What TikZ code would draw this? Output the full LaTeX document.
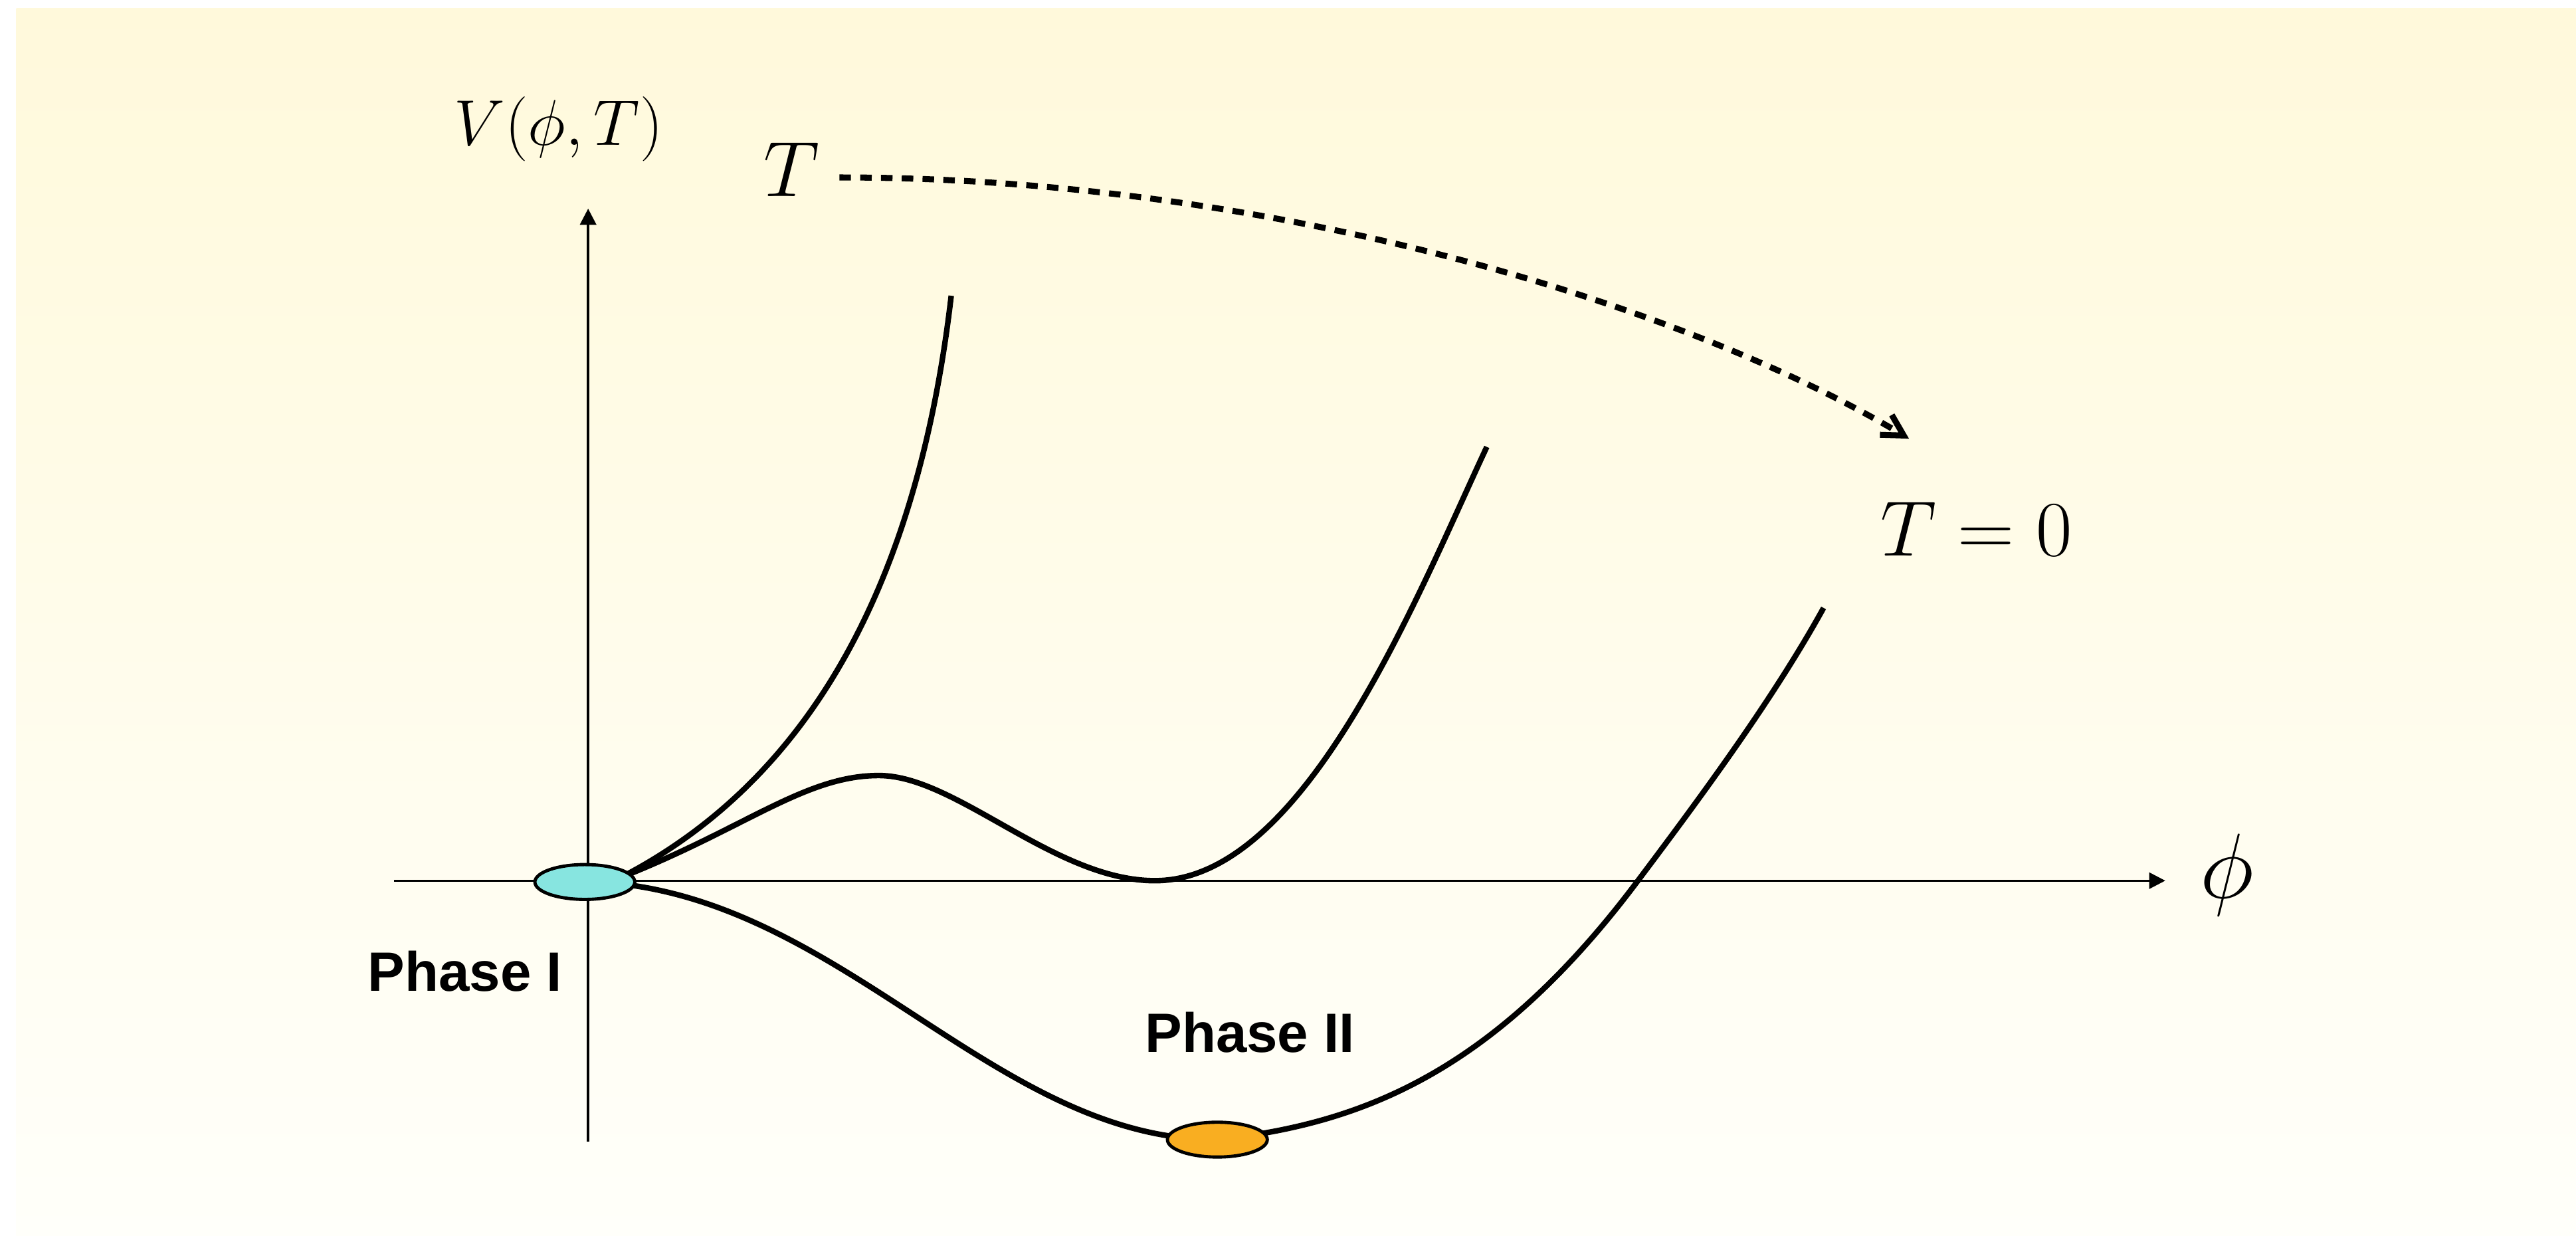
\RequirePackage{fix-cm}
\documentclass[tikz,border=0pt]{standalone}
\usepackage{fontspec}
\setsansfont{Liberation Sans}
\usetikzlibrary{arrows.meta,shapes.geometric}
\definecolor{bgtop}{RGB}{255,249,219}
\definecolor{bgbot}{RGB}{255,255,250}
\definecolor{vacone}{RGB}{135,229,224}
\definecolor{vactwo}{RGB}{249,174,33}

\begin{document}
\begin{tikzpicture}[
  axis/.style={line width=1pt, -{Triangle[length=7pt,width=7pt]}},
  curve/.style={line width=2.4pt},
  vac/.style={ellipse, draw, line width=1.4pt, minimum width=1.52cm,
              minimum height=0.53cm, inner sep=0pt},
  phase/.style={font=\sffamily\bfseries\fontsize{24}{28}\selectfont},
  lab/.style={font=\fontsize{34}{40}\selectfont},
  dots/.style={line width=2.6pt, dash pattern=on 5pt off 4pt,
               -{Straight Barb[length=9pt,width=10pt]}}]
  \useasboundingbox (-8.95,-5.4) rectangle (30.25,13.4);
  \shade[top color=bgtop, bottom color=bgbot] (-8.7,-5.4) rectangle (30.25,13.275);
  % axes
  \coordinate (xl) at (-2.95,0);
  \coordinate (xr) at (24,0);
  \coordinate (yb) at (0,-3.975);
  \coordinate (yt) at (0,10.225);
  \draw[axis] (xl) -- (xr);
  \draw[axis] (yb) -- (yt);
  % potentials
  \draw[curve] (0.5,0.05) .. controls (3.3,1.5) and (5.0,4.4) .. (5.525,8.9);
  \draw[curve] (0.5,0.05) .. controls (2.4,0.8) and (3.3,1.6) .. (4.425,1.6)
    .. controls (5.6,1.6) and (7.1,0) .. (8.625,0)
    .. controls (10.9,0) and (12.6,4.3) .. (13.675,6.6);
  \draw[curve] (0.5,-0.05) .. controls (4.0,-0.45) and (6.3,-3.95) .. (9.575,-3.94)
    .. controls (11.8,-3.7) and (13.8,-2.9) .. (15.975,0)
    .. controls (16.8,1.1) and (18.0,2.7) .. (18.8,4.15);
  % vacua
  \node[vac, fill=vacone] (v1) at (-0.05,-0.02) {};
  \node[vac, fill=vactwo] (v2) at (9.575,-3.94) {};
  % labels
  \node[font=\fontsize{28}{34}\selectfont] (vlab) at (-0.45,11.44) {$V(\phi,T)$};
  \node[lab] (tlab) at (3.1,10.825) {$T$};
  \node[lab] (tzero) at (21.125,5.35) {$T=0$};
  \node[font=\fontsize{40}{48}\selectfont] (philab) at (24.94,0.09) {$\phi$};
  \node[phase] (p1) at (-1.875,-1.375) {Phase I};
  \node[phase] (p2) at (10.07,-2.31) {Phase II};
  % cooling
  \coordinate (tend) at (20.1,6.725);
  \draw[dots, shorten <=1.75mm] ([yshift=-1.25mm]tlab.east)
    .. controls (10.5,10.7) and (16.8,8.7) .. (tend);
\end{tikzpicture}
\end{document}
